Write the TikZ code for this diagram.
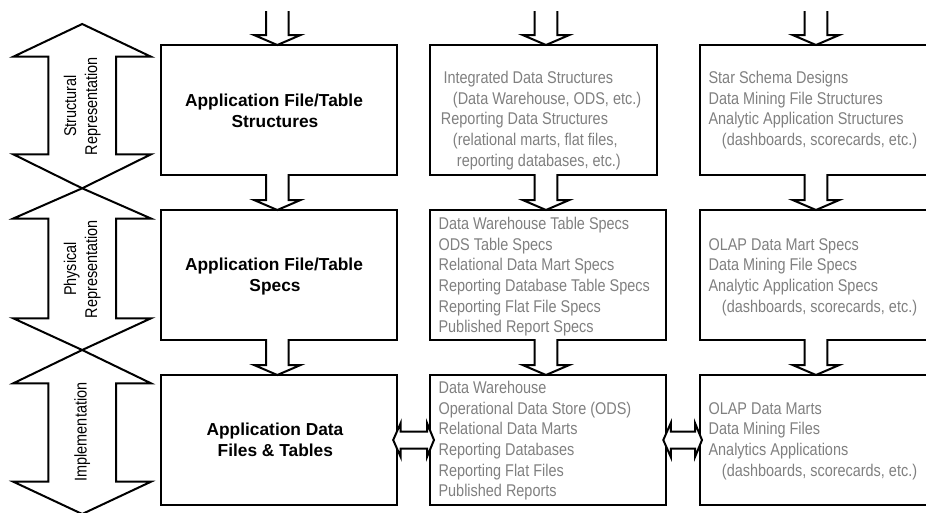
\documentclass[tikz,border=0pt]{standalone}
\usepackage{fontspec}
\setmainfont{Liberation Sans}
\newfontfamily\narrowfont{Liberation Sans}[FakeStretch=0.85]
\usetikzlibrary{calc}
\definecolor{txtgray}{RGB}{128,128,128}
\tikzset{
  box/.style={draw, line width=1.5pt, fill=white, inner sep=0pt, outer sep=0pt,
    anchor=north west, minimum height=97.5pt},
  conn/.style={line width=1.5pt, line join=miter},
  gtext/.style={text=txtgray, font=\narrowfont\fontsize{12.75}{15.6}\selectfont,
    anchor=base west, inner sep=0pt},
  btext/.style={font=\bfseries\fontsize{13}{15.75}\selectfont, anchor=base, inner sep=0pt},
  rtext/.style={font=\narrowfont\fontsize{12.75}{15.75}\selectfont, rotate=90, align=center,
    inner sep=0pt}
}
% vertical block arrow: #1 shaft start, #2 tip
\newcommand\vblk[2]{%
  \fill[white] ($(#1)+(-11.3,-2.5)$) -- ($(#2)+(-11.3,-10)$) -- ($(#2)+(-23.3,-10)$) -- (#2)
    -- ($(#2)+(23.3,-10)$) -- ($(#2)+(11.3,-10)$) -- ($(#1)+(11.3,-2.5)$) -- cycle;
  \draw[conn] ($(#1)+(-11.3,-0.8)$) -- ($(#2)+(-11.3,-10)$) -- ($(#2)+(-23.3,-10)$) -- (#2)
    -- ($(#2)+(23.3,-10)$) -- ($(#2)+(11.3,-10)$) -- ($(#1)+(11.3,-0.8)$);}
% horizontal double block arrow: #1 left tip, #2 right tip
\newcommand\hblk[2]{%
  \draw[conn, fill=white] (#1) -- ($(#1)+(7.5,-17)$) -- ($(#1)+(7.5,-8.5)$) -- ($(#2)+(-7,-8.5)$)
    -- ($(#2)+(-7,-17)$) -- (#2) -- ($(#2)+(-7,17)$) -- ($(#2)+(-7,8.5)$)
    -- ($(#1)+(7.5,8.5)$) -- ($(#1)+(7.5,17)$) -- cycle;}
% big vertical double arrow on the left
\newcommand\bigarr[4]{%
  \draw[conn, fill=white] (82.2,#1) -- (151,#2) -- (116,#2) -- (116,#3) -- (151,#3) -- (82.2,#4)
    -- (13.3,#3) -- (48.3,#3) -- (48.3,#2) -- (13.3,#2) -- cycle;}
\begin{document}
\begin{tikzpicture}[x=0.75pt, y=-0.75pt]
\useasboundingbox (0,0) rectangle (926,512);
\clip (0,0) rectangle (926,512);

% left double arrows
\bigarr{24}{56.7}{154.3}{188.3}
\bigarr{188.3}{218.5}{318.3}{350}
\bigarr{350}{383.3}{481.7}{514}
\node[rtext] (l1) at (82.2,106) {Structural\\Representation};
\node[rtext] (l2) at (82.2,269) {Physical\\Representation};
\node[rtext] (l3) at (82.2,432) {Implementation};

% boxes
\node[box, minimum width=177pt] (b11) at (160.7,45) {};
\node[box, minimum width=177pt] (b21) at (160.7,210) {};
\node[box, minimum width=177pt] (b31) at (160.7,375) {};
\node[box, minimum width=170.25pt] (b12) at (430,45) {};
\node[box, minimum width=177pt] (b22) at (430,210) {};
\node[box, minimum width=177pt] (b32) at (430,375) {};
\node[box, minimum width=195pt] (b13) at (700,45) {};
\node[box, minimum width=195pt] (b23) at (700,210) {};
\node[box, minimum width=195pt] (b33) at (700,375) {};

% column axes and free ends
\coordinate (c1) at (277.3,0);
\coordinate (c2) at (546,0);
\coordinate (c3) at (816,0);
\coordinate (t1) at (277.3,12);
\coordinate (t2) at (546,12);
\coordinate (t3) at (816,12);

% vertical arrows
\foreach \c/\t/\a/\b/\d in {1/t1/b11/b21/b31, 2/t2/b12/b22/b32, 3/t3/b13/b23/b33}{
  \coordinate (p0) at (\a.north -| c\c);
  \coordinate (p1) at (\a.south -| c\c);
  \coordinate (p2) at (\b.north -| c\c);
  \coordinate (p3) at (\b.south -| c\c);
  \coordinate (p4) at (\d.north -| c\c);
  \vblk{\t}{p0}
  \vblk{p1}{p2}
  \vblk{p3}{p4}
}

% horizontal arrows
\coordinate (h1l) at ($(b31.east)+(-3.5,0)$);
\coordinate (h1r) at ($(b32.west)+(4,0)$);
\coordinate (h2l) at ($(b32.east)+(-2.7,0)$);
\coordinate (h2r) at ($(b33.west)+(2,0)$);
\hblk{h1l}{h1r}
\hblk{h2l}{h2r}

% bold texts
\node[btext] (a1) at (274,106.7) {Application File/Table};
\node[btext] (a2) at (275,127.7) {Structures};
\node[btext] (a3) at (274,270.7) {Application File/Table};
\node[btext] (a4) at (275,291.7) {Specs};
\node[btext] (a5) at (275,435.7) {Application Data};
\node[btext] (a6) at (275.3,456.7) {Files \& Tables};

% middle column, row 1
\node[gtext] (m11) at (443.3,83.3) {Integrated Data Structures};
\node[gtext] (m12) at (452.7,104) {(Data Warehouse, ODS, etc.)};
\node[gtext] (m13) at (440.7,124.7) {Reporting Data Structures};
\node[gtext] (m14) at (452.7,145.3) {(relational marts, flat files,};
\node[gtext] (m15) at (456.7,166) {reporting databases, etc.)};
% middle column, row 2
\node[gtext] (m21) at (438.3,229.3) {Data Warehouse Table Specs};
\node[gtext] (m22) at (438.3,250) {ODS Table Specs};
\node[gtext] (m23) at (438.3,270.7) {Relational Data Mart Specs};
\node[gtext] (m24) at (438.3,291.3) {Reporting Database Table Specs};
\node[gtext] (m25) at (438.3,312) {Reporting Flat File Specs};
\node[gtext] (m26) at (438.3,332.7) {Published Report Specs};
% middle column, row 3
\node[gtext] (m31) at (438.3,393.3) {Data Warehouse};
\node[gtext] (m32) at (438.3,414) {Operational Data Store (ODS)};
\node[gtext] (m33) at (438.3,434.7) {Relational Data Marts};
\node[gtext] (m34) at (438.3,455.3) {Reporting Databases};
\node[gtext] (m35) at (438.3,476) {Reporting Flat Files};
\node[gtext] (m36) at (438.3,496.7) {Published Reports};

% right column, row 1
\node[gtext] (r11) at (708.3,83.3) {Star Schema Designs};
\node[gtext] (r12) at (708.3,104) {Data Mining File Structures};
\node[gtext] (r13) at (708.3,124.7) {Analytic Application Structures};
\node[gtext] (r14) at (721.7,145.3) {(dashboards, scorecards, etc.)};
% right column, row 2
\node[gtext] (r21) at (708.3,250) {OLAP Data Mart Specs};
\node[gtext] (r22) at (708.3,270.7) {Data Mining File Specs};
\node[gtext] (r23) at (708.3,291.3) {Analytic Application Specs};
\node[gtext] (r24) at (721.7,312) {(dashboards, scorecards, etc.)};
% right column, row 3
\node[gtext] (r31) at (708.3,414) {OLAP Data Marts};
\node[gtext] (r32) at (708.3,434.7) {Data Mining Files};
\node[gtext] (r33) at (708.3,455.3) {Analytics Applications};
\node[gtext] (r34) at (721.7,476) {(dashboards, scorecards, etc.)};
\end{tikzpicture}
\end{document}
